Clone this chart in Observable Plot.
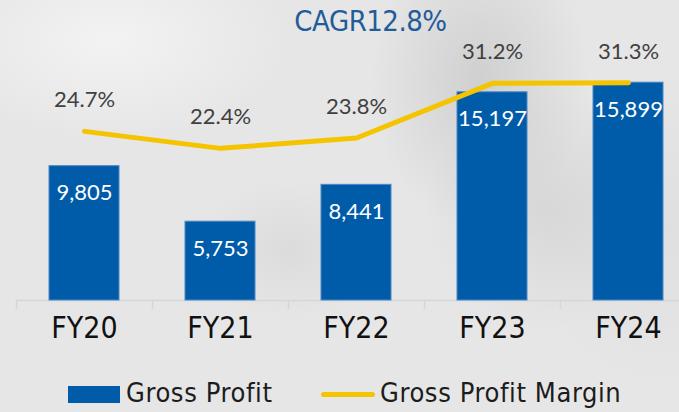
<!DOCTYPE html>
<html>
<head>
<meta charset="utf-8">
<script src="https://cdn.jsdelivr.net/npm/d3@7"></script>
<script src="https://cdn.jsdelivr.net/npm/@observablehq/plot@0.6"></script>
<style>
  html, body { margin: 0; padding: 0; }
  #wrap {
    position: relative; width: 679px; height: 412px; overflow: hidden;
    background:
      radial-gradient(ellipse 110px 150px at 480px 80px, rgba(185,185,185,0.5), rgba(185,185,185,0) 100%),
      radial-gradient(ellipse 120px 120px at 545px 210px, rgba(195,195,195,0.4), rgba(195,195,195,0) 100%),
      radial-gradient(ellipse 90px 70px at 290px 250px, rgba(200,200,200,0.35), rgba(200,200,200,0) 100%),
      radial-gradient(ellipse 180px 100px at 110px 40px, rgba(248,248,248,0.7), rgba(248,248,248,0) 100%),
      radial-gradient(ellipse 140px 160px at 665px 230px, rgba(215,215,215,0.45), rgba(215,215,215,0) 100%),
      #e6e6e6;
  }
  #chart { position: absolute; left: 0; top: 0; }
  .hand { font-family: "DejaVu Sans Condensed", "DejaVu Sans", sans-serif; font-stretch: condensed; }
  #title { position: absolute; left: 0; width: 741px; top: 3px; text-align: center; font-size: 29px; line-height: 36px; color: #1f5c99; letter-spacing: -0.5px; }
  .legtxt { position: absolute; top: 376px; font-size: 27px; line-height: 34px; color: #1c1c1c; letter-spacing: 0.6px; white-space: nowrap; }
  #sw1 { position: absolute; left: 68px; top: 386px; width: 52px; height: 17px; background: #005ca9; }
  #sw2 { position: absolute; left: 321px; top: 392px; width: 54px; height: 5px; border-radius: 3px; background: #f5c400; }
</style>
</head>
<body>
<div id="wrap">
  <div id="chart"></div>
  <div id="title" class="hand">CAGR12.8%</div>
  <div id="sw1"></div>
  <div class="legtxt hand" style="left:126px">Gross Profit</div>
  <div id="sw2"></div>
  <div class="legtxt hand" style="left:380px">Gross Profit Margin</div>
</div>
<script>
const years = ["FY20", "FY21", "FY22", "FY23", "FY24"];
const grossProfit = [9805, 5753, 8441, 15197, 15899];
const grossMargin = [24.7, 22.4, 23.8, 31.2, 31.3];

const data = years.map((y, i) => ({year: y, gp: grossProfit[i], gm: grossMargin[i]}));

// secondary axis (margin %) mapped onto the primary axis
const sec = d3.scaleLinear([1.8, 38.9], [0, 20000]);

const step = 136;
const labelFont = "Lato, 'Open Sans', sans-serif";

const plot = Plot.plot({
  width: 679,
  height: 360,
  marginTop: 26,
  marginBottom: 60,
  marginLeft: 16,
  marginRight: 0,
  style: {background: "transparent", overflow: "visible"},
  x: {type: "band", domain: years, range: [16, 696], paddingInner: 0.485, paddingOuter: 0.2425, axis: null},
  y: {domain: [0, 20000], axis: null},
  marks: [
    Plot.ruleY([0], {stroke: "#d6d6d6", strokeWidth: 1.5}),
    Plot.ruleX(years, {x: d => d, dx: -step / 2, stroke: "#d6d6d6", strokeWidth: 1.5, insetTop: 274, insetBottom: -9}),
    Plot.barY(data, {x: "year", y: "gp", fill: "#005ca9", stroke: "#4f86c4", strokeWidth: 1}),
    Plot.text(data, {x: "year", y: "gp", text: d => d3.format(",")(d.gp), dy: 27, fill: "white", fontSize: 22, fontFamily: labelFont}),
    Plot.line(data, {x: "year", y: d => sec(d.gm), stroke: "#f5c400", strokeWidth: 5, strokeLinecap: "round", strokeLinejoin: "round"}),
    Plot.text(data, {x: "year", y: d => sec(d.gm), text: d => d.gm.toFixed(1) + "%", dy: -31, fill: "#404040", fontSize: 22, fontFamily: labelFont}),
    Plot.text(data, {x: "year", frameAnchor: "bottom", text: "year", dy: 37, fill: "#111", fontSize: 30, fontFamily: "'DejaVu Sans Condensed', 'DejaVu Sans', sans-serif", fontStretch: "condensed"})
  ]
});
document.getElementById("chart").appendChild(plot);
</script>
</body>
</html>
